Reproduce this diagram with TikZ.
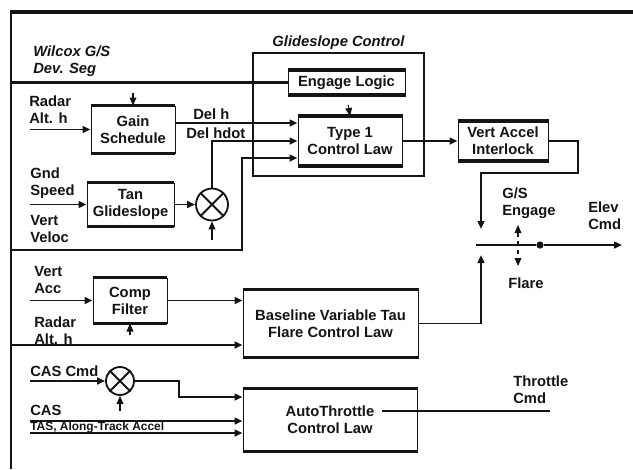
\documentclass[tikz,border=0pt]{standalone}
\usepackage{fontspec}
\setmainfont{Liberation Sans}
\usetikzlibrary{arrows.meta,positioning,calc}
\definecolor{scanInk}{RGB}{20,20,20}
\tikzset{
  block/.style={draw=scanInk,line width=0.7pt,fill=white,align=center,text=scanInk,font=\fontsize{10.5}{12}\selectfont\bfseries,inner sep=1pt},
  sum/.style={circle,draw=scanInk,line width=1.3pt,minimum size=8mm,inner sep=0pt},
  signal/.style={-{Triangle[length=2mm,width=1.7mm]},line width=1.4pt,draw=scanInk},
  wire/.style={line width=1.4pt,draw=scanInk},
  feed/.style={-{Triangle[length=2mm,width=1.7mm]},line width=0.8pt,draw=scanInk,shorten <=2.5mm},
  toggle/.style={{Triangle[length=2mm,width=1.7mm]}-{Triangle[length=2mm,width=1.7mm]},dashed,line width=0.8pt,draw=scanInk},
  tag/.style={align=left,anchor=west,text=scanInk,font=\fontsize{10.5}{12}\selectfont\bfseries,inner sep=0pt},
  heading/.style={tag,font=\fontsize{10.5}{12}\selectfont\bfseries\itshape}
}
\begin{document}
\begin{tikzpicture}[x=0.25mm,y=-0.25mm]
      \useasboundingbox (0,0) rectangle (633,469);
      \draw[line width=2.4pt,draw=scanInk] (10,12) -- (633,12);
      \draw[line width=1.4pt,draw=scanInk] (11,12) -- (11,469);
      % glideslope loop
      \node[draw=scanInk,line width=1pt,minimum width=42.75mm,minimum height=30.75mm] (glide) at (338.5,114.5) {};
      \node[heading,above=0.7mm of glide] (glidetitle) {Glideslope Control};
      \node[block,minimum width=29.25mm,minimum height=6mm] (engage) at (346.5,82.5) {Engage Logic};
      \node[block,minimum width=26mm,minimum height=12.25mm] (type1) at (350,141) {Type 1\\Control Law};
      \node[block,minimum width=21mm,minimum height=11.75mm] (gain) at (133,129.5) {Gain\\Schedule};
      \node[block,minimum width=21.75mm,minimum height=10.75mm] (tang) at (130.5,204.5) {Tan\\Glideslope};
      \node[sum] (mul1) at (212,204.5) {};
      \node[block,minimum width=22.5mm,minimum height=9.75mm] (vai) at (503,141) {Vert Accel\\Interlock};
      % flare and throttle
      \node[block,minimum width=18.5mm,minimum height=11.25mm] (comp) at (130,300.5) {Comp\\Filter};
      \node[block,minimum width=43.75mm,minimum height=16.75mm] (base) at (330.5,323.5) {Baseline Variable Tau\\Flare Control Law};
      \node[sum,minimum size=7mm] (mul2) at (120,381) {};
      \node[block,minimum width=43.5mm,minimum height=15.5mm] (atc) at (330,420) {AutoThrottle\\Control Law};
      \node[circle,fill=scanInk,inner sep=0pt,minimum size=1.8mm] (knot) at (540,245) {};
      \foreach \b in {gain,tang,comp,engage,type1,vai,base,atc}
        \draw[line width=2.2pt,draw=scanInk] (\b.north west) -- (\b.north east) (\b.south west) -- (\b.south east);
      \foreach \m in {mul1,mul2}
        \draw[wire] (\m.45) -- (\m.225) (\m.135) -- (\m.315);
      \coordinate (wil) at (11,82.5);
      \coordinate (ralt) at (30,129.5);
      \coordinate (gnd) at (30,204.5);
      \coordinate (busA) at (11,250);
      \coordinate (tap) at (242,158);
      \coordinate (in1) at ($(type1.west)+(0,-18)$);
      \coordinate (in2) at (type1.west);
      \coordinate (in3) at ($(type1.west)+(0,17)$);
      \coordinate (vturn) at (578,173);
      \coordinate (cUp) at (481,229);
      \coordinate (cLo) at (481,255);
      \coordinate (swL) at (476,245);
      \coordinate (elev) at (622,245);
      \coordinate (tgU) at (518,225);
      \coordinate (tgD) at (518,266);
      \coordinate (vacc) at (30,300.5);
      \coordinate (busB) at (11,345);
      \coordinate (cascmd) at (30,381);
      \coordinate (cas) at (30,421);
      \coordinate (tas) at (30,433);
      \coordinate (thrA) at (382,411);
      \coordinate (thrB) at (550,411);
      \draw[wire,line width=1.8pt] (wil) -- (engage.west);
      \draw[feed] (gain.north |- wil) -- (gain.north);
      \draw[feed] (engage.south) -- (type1.north);
      \draw[signal] (ralt) -- (gain.west);
      \draw[signal] (gain.east |- in1) -- (in1);
      \draw[signal] (mul1.north) |- (in2);
      \draw[signal] (busA) -| (tap) -- (in3);
      \draw[signal] (gnd) -- (tang.west);
      \draw[signal] (tang.east) -- (mul1.west);
      \draw[feed] (mul1.south |- busA) -- (mul1.south);
      \draw[signal] (type1.east) -- (vai.west);
      \draw[signal] (vai.east) -| (vturn) -- (vturn -| cUp) -- (cUp);
      \draw[signal] (base.east) -| (cLo);
      \draw[wire] (swL) -- (knot);
      \draw[signal] (knot) -- (elev);
      \draw[toggle] (tgU) -- (tgD);
      \draw[signal] (vacc) -- (comp.west);
      \draw[signal] (comp.east) -- (comp.east -| base.west);
      \draw[signal] (busB) -- (busB -| base.west);
      \draw[feed] (comp.south |- busB) -- (comp.south);
      \draw[signal] (cascmd) -- (mul2.west);
      \draw[signal] (mul2.east) -- ++(44,0) |- ($(atc.west)+(0,-23)$);
      \draw[signal] (cas) -- (cas -| atc.west);
      \draw[signal] (tas) -- (tas -| atc.west);
      \draw[feed] (mul2.south |- cas) -- (mul2.south);
      \draw[wire] (thrA) -- (thrB);
      % labels
      \node[heading] (wilcox) at (33,61) {Wilcox G/S\\Dev. Seg};
      \node[tag] (raltA) at (29,110) {Radar\\Alt. h};
      \node[tag] (delh) at (193,114) {Del h};
      \node[tag] (delhdot) at (186,133) {Del hdot};
      \node[tag] (gndspd) at (30,183) {Gnd\\Speed};
      \node[tag] (vertvel) at (30,229) {Vert\\Veloc};
      \node[tag] (vertacc) at (34,280) {Vert\\Acc};
      \node[tag] (raltB) at (34,331) {Radar\\Alt. h};
      \node[tag] (cascmdlbl) at (30,371) {CAS Cmd};
      \node[tag] (caslbl) at (30,410) {CAS};
      \node[tag,font=\fontsize{8.5}{10}\selectfont\bfseries] (taslbl) at (30,427) {TAS, Along-Track Accel};
      \node[tag] (gsengage) at (502,203) {G/S\\Engage};
      \node[tag] (flare) at (508,283) {Flare};
      \node[tag] (elevcmd) at (588,216) {Elev\\Cmd};
      \node[tag] (thrcmd) at (513,390) {Throttle\\Cmd};
    \end{tikzpicture}
\end{document}
